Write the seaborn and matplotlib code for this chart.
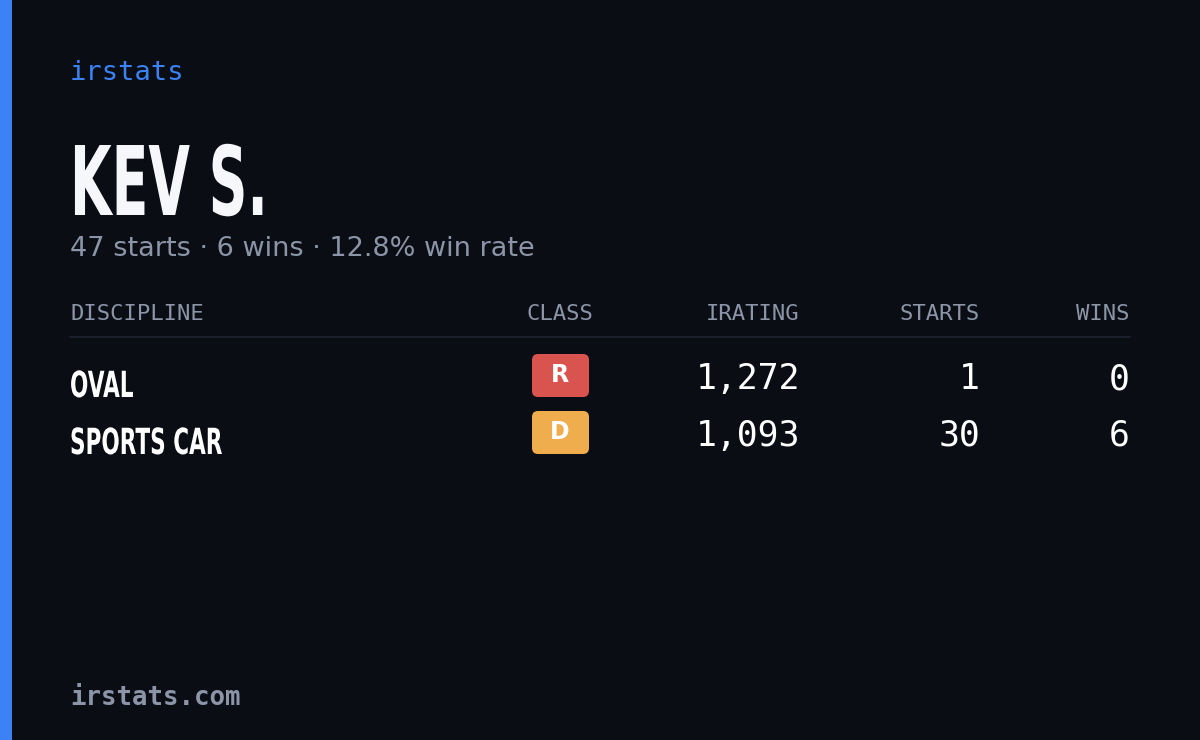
import matplotlib
matplotlib.use("Agg")
import matplotlib.pyplot as plt
from matplotlib.patches import FancyBboxPatch, Rectangle, PathPatch
from matplotlib.textpath import TextPath
from matplotlib.font_manager import FontProperties
from matplotlib.transforms import Affine2D
import seaborn as sns

sns.set_theme(style="dark")
plt.rcParams['font.family'] = ['DejaVu Sans']

brand = "irstats"
driver = "KEV S."
summary = "47 starts · 6 wins · 12.8% win rate"
columns = ["DISCIPLINE", "CLASS", "IRATING", "STARTS", "WINS"]
disciplines = ["OVAL", "SPORTS CAR"]
classes = ["R", "D"]
class_colors = ["#d9534f", "#f0ad4e"]
iratings = [1272, 1093]
starts = [1, 30]
wins = [0, 6]
footer = "irstats.com"

BG = "#0a0d14"
GREY = "#8b95a7"
BLUE = "#3b82f6"
MONO = "DejaVu Sans Mono"

fig = plt.figure(figsize=(12, 7.4), dpi=100, facecolor=BG)
ax = fig.add_axes([0, 0, 1, 1])
ax.set_facecolor(BG)
ax.set_xlim(0, 1200)
ax.set_ylim(740, 0)
ax.axis("off")

ax.add_patch(Rectangle((0, 0), 12, 740, color=BLUE, lw=0))

BOLD = FontProperties(family="DejaVu Sans", weight="bold")


def narrow_text(x, baseline, s, em, squeeze, color):
    tp = TextPath((0, 0), s, size=em, prop=BOLD)
    tr = Affine2D().scale(squeeze, -1).translate(x, baseline)
    ax.add_patch(PathPatch(tr.transform_path(tp), color=color, lw=0))


ax.text(70, 73, brand, color=BLUE, fontsize=19.5, family=MONO, va="center", ha="left")
narrow_text(70, 215, driver, 96, 0.56, "#f5f7fa")
ax.text(70, 256, summary, color=GREY, fontsize=19.5, va="baseline", ha="left")

col_x = [70, 560, 800, 980, 1130]
col_ha = ["left", "center", "right", "right", "right"]
for c, x, ha in zip(columns, col_x, col_ha):
    ax.text(x, 314, c, color=GREY, fontsize=16, family=MONO, va="center", ha=ha)
ax.plot([70, 1130], [337, 337], color="#1e2330", lw=1.2)

row_y = [379, 436]
for i, y in enumerate(row_y):
    narrow_text(70, y + 18, disciplines[i], 36, 0.6, "white")
    ax.add_patch(FancyBboxPatch((532, y - 25), 57, 43,
                                boxstyle="round,pad=0,rounding_size=6",
                                color=class_colors[i], lw=0))
    ax.text(560, y - 4, classes[i], color="white", fontsize=17, weight="bold",
            va="center", ha="center")
    for val, x in zip([f"{iratings[i]:,}", str(starts[i]), str(wins[i])],
                      [800, 980, 1130]):
        ax.text(x, y, val, color="white", fontsize=25, family=MONO,
                va="center", ha="right")

ax.text(70, 698, footer, color=GREY, fontsize=18.5, family=MONO, weight="bold",
        va="center", ha="left")

fig.savefig("out.png", dpi=100, facecolor=BG)
